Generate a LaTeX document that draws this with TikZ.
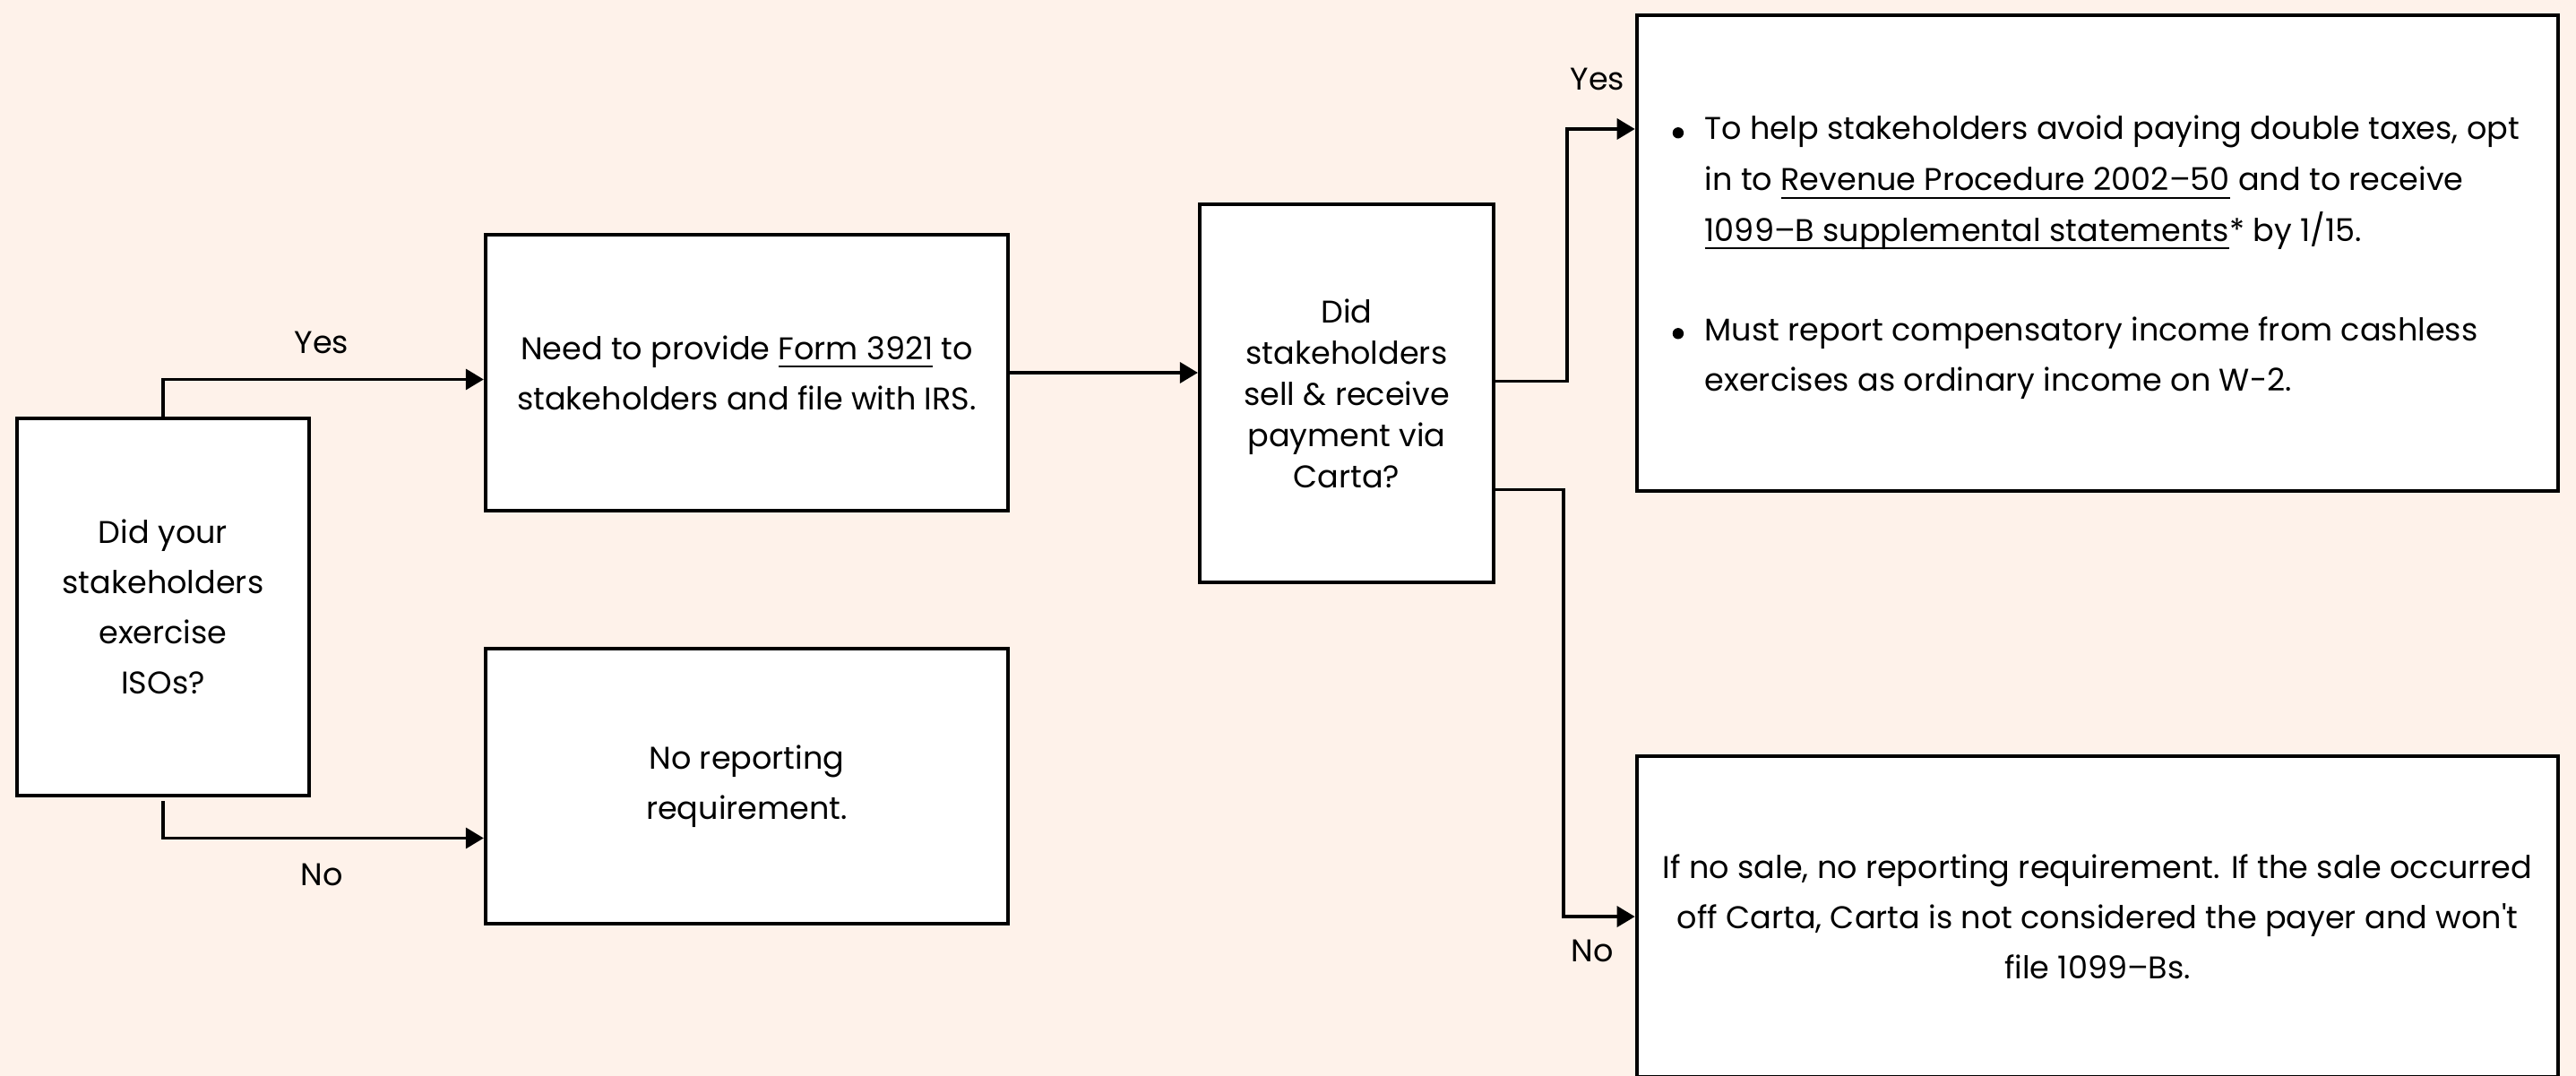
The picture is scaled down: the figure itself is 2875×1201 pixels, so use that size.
\documentclass[tikz,border=0pt]{standalone}
\usepackage{fontspec}
\usepackage{graphicx}
\setmainfont{Poppins}
\usetikzlibrary{arrows.meta,calc}
\definecolor{bgpeach}{RGB}{254,242,234}
\newcommand\fsz{\fontsize{9.96pt}{15.9pt}\selectfont}
\newcommand\fsze{\fontsize{9.96pt}{16.1pt}\selectfont}
\newcommand\fszd{\fontsize{9.96pt}{13.1pt}\selectfont}
\newcommand\uln[1]{\setbox0\hbox{#1}\rlap{\rule[-0.09cm]{\wd0}{0.55pt}}\box0\relax}
\newcommand\bul{\makebox[0.36cm][l]{\raisebox{0.015cm}{\tikz\fill (0cm,0cm) circle (0.062cm);}}}
\begin{document}
\begin{tikzpicture}[x=0.01cm,y=-0.01cm,
  box/.style={draw=black, fill=white, line width=1.13pt, inner sep=0pt, align=center, font=\fsz},
  conn/.style={line width=1.13pt, -{Triangle[length=5.7pt,width=6.5pt]}},
  lbl/.style={font=\fsz, inner sep=0pt, anchor=base}]
\useasboundingbox (0,0) rectangle (2875,1201);
\clip (0,0) rectangle (2875,1201);
\fill[bgpeach] (0,0) rectangle (2875,1201);

\node[box, minimum width=3.26cm, minimum height=4.21cm] (a) at (182,677.5)
  {Did your\\stakeholders\\exercise\\ISOs?};
\node[box, minimum width=5.83cm, minimum height=3.08cm] (b) at (833.5,416)
  {Need to provide \uln{Form 3921} to\\stakeholders and file with IRS.};
\node[box, minimum width=5.83cm, minimum height=3.07cm] (c) at (833.5,877.5)
  {No reporting\\requirement.};
\node[box, font=\fszd, minimum width=3.28cm, minimum height=4.22cm] (d) at (1503,439)
  {Did\\stakeholders\\sell \& receive\\payment via\\Carta?};
\node[box, minimum width=10.28cm, minimum height=5.31cm] (e) at (2341,282.5) {};
\node[font=\fsze, inner sep=0pt, anchor=west, align=left] (etext) at (1866,285)
  {\begin{tabular}{@{}l@{}l@{}}
   \bul & To help stakeholders avoid paying double taxes, opt\\
   & in to \uln{Revenue Procedure 2002–50} and to receive\\
   & \uln{1099–B supplemental statements}* by 1/15.\\[15.4pt]
   \bul & Must report compensatory income from cashless\\
   & exercises as ordinary income on W-2.
   \end{tabular}};
\node[box, minimum width=10.28cm, minimum height=3.58cm, anchor=north] (f) at (2341,842)
  {If no sale, no reporting requirement. If the sale occurred\\off Carta, Carta is not considered the payer and won\textquotesingle t\\file 1099–Bs.};

\coordinate (astart) at ($(a.south)+(0,4)$);
\coordinate (byes) at ($(b.west)+(0,7.5)$);
\coordinate (cno) at ($(c.west)+(0,58)$);
\coordinate (dyes) at ($(d.east)+(0,-13.5)$);
\coordinate (dno) at ($(d.east)+(0,107.5)$);
\coordinate (eyes) at ($(e.west)+(0,-138.5)$);

\draw[conn] (a.north) |- (byes);
\draw[conn] (astart) |- (cno);
\draw[conn] (b.east) -- (b.east -| d.west);
\draw[conn] (dyes) -- ++(80,0) |- (eyes);
\draw[conn] (dno) -- ++(76,0) |- (f.west);

\node[lbl] (lyes1) at (359,395) {Yes};
\node[lbl] (lno1) at (359,989) {No};
\node[lbl] (lyes2) at (1783,101) {Yes};
\node[lbl] (lno2) at (1777,1074) {No};
\end{tikzpicture}
\end{document}
